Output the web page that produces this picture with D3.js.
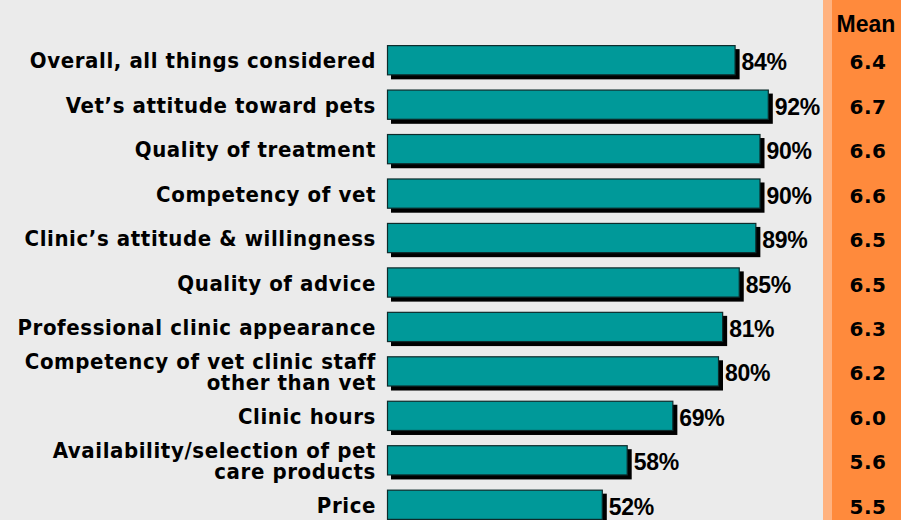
<!DOCTYPE html>
<html>
<head>
<meta charset="utf-8">
<script src="https://cdn.jsdelivr.net/npm/d3@7"></script>
<style>
  html, body { margin: 0; padding: 0; background: #ebebeb; }
  svg { display: block; }
</style>
</head>
<body>
<svg id="chart" width="901" height="520"></svg>
<script>
// Satisfaction attributes (top-to-bottom), share satisfied and mean rating
const categories = [
  ["Overall, all things considered"],
  ["Vet\u2019s attitude toward pets"],
  ["Quality of treatment"],
  ["Competency of vet"],
  ["Clinic\u2019s attitude & willingness"],
  ["Quality of advice"],
  ["Professional clinic appearance"],
  ["Competency of vet clinic staff", "other than vet"],
  ["Clinic hours"],
  ["Availability/selection of pet", "care products"],
  ["Price"]
];
const percentSatisfied = [84, 92, 90, 90, 89, 85, 81, 80, 69, 58, 52];
const meanScores = ["6.4", "6.7", "6.6", "6.6", "6.5", "6.5", "6.3", "6.2", "6.0", "5.6", "5.5"];

const W = 901, H = 520;
const svg = d3.select("#chart");

svg.append("rect").attr("width", W).attr("height", H).attr("fill", "#ebebeb");

// Mean column band
svg.append("rect").attr("x", 823).attr("y", 0).attr("width", 10).attr("height", H).attr("fill", "#ffb27f");
svg.append("rect").attr("x", 832).attr("y", 0).attr("width", W - 832).attr("height", H).attr("fill", "#ff8a3c");

const x = d3.scaleLinear().domain([0, 100]).range([387, 802]);
const y = d3.scaleBand().domain(d3.range(categories.length)).range([38, 527]).paddingInner(0.32).paddingOuter(0.16);

const rows = svg.append("g").selectAll("g").data(categories).join("g");

// shadow
rows.append("rect")
  .attr("x", (d, i) => x(0) + 4)
  .attr("y", (d, i) => y(i) + 4)
  .attr("width", (d, i) => x(percentSatisfied[i]) - x(0))
  .attr("height", y.bandwidth())
  .attr("fill", "#000");

// bar
rows.append("rect")
  .attr("x", x(0) + 0.5)
  .attr("y", (d, i) => y(i) + 0.5)
  .attr("width", (d, i) => x(percentSatisfied[i]) - x(0) - 1)
  .attr("height", y.bandwidth() - 1)
  .attr("fill", "#009999")
  .attr("stroke", "#0d2b2b")
  .attr("stroke-width", 1.2);

// category labels
rows.append("text")
  .attr("text-anchor", "end")
  .attr("font-family", "DejaVu Sans Condensed, DejaVu Sans, sans-serif")
  .attr("font-stretch", "condensed")
  .attr("font-weight", "bold")
  .attr("font-size", 22)
  .attr("letter-spacing", 0.6)
  .attr("fill", "#000")
  .each(function(d, i) {
    const t = d3.select(this);
    const cy = y(i) + y.bandwidth() / 2;
    const lh = 21;
    const start = cy + 8 - (d.length - 1) * lh / 2;
    d.forEach((line, k) => {
      t.append("tspan").attr("x", 376).attr("y", start + k * lh).text(line);
    });
  });

// value labels
rows.append("text")
  .attr("x", (d, i) => x(percentSatisfied[i]) + 6)
  .attr("y", (d, i) => y(i) + y.bandwidth() / 2 + 10)
  .attr("font-family", "Liberation Sans, Arial, sans-serif")
  .attr("font-weight", "bold")
  .attr("font-size", 23)
  .attr("letter-spacing", -0.3)
  .attr("fill", "#000")
  .text((d, i) => percentSatisfied[i] + "%");

// mean values
rows.append("text")
  .attr("x", 868)
  .attr("y", (d, i) => y(i) + y.bandwidth() / 2 + 9)
  .attr("text-anchor", "middle")
  .attr("font-family", "DejaVu Sans, Verdana, sans-serif")
  .attr("font-weight", "bold")
  .attr("font-size", 20)
  .attr("letter-spacing", 0.5)
  .attr("fill", "#000")
  .text((d, i) => meanScores[i]);

svg.append("text")
  .attr("x", 866).attr("y", 32)
  .attr("text-anchor", "middle")
  .attr("font-family", "Liberation Sans, Arial, sans-serif")
  .attr("font-weight", "bold")
  .attr("font-size", 23)
  .attr("fill", "#000")
  .text("Mean");
</script>
</body>
</html>
